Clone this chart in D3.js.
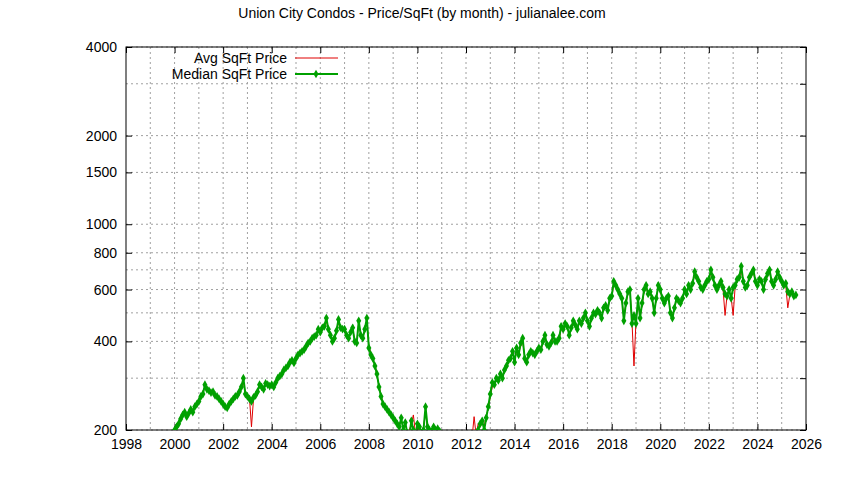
<!DOCTYPE html>
<html><head><meta charset="utf-8">
<script src="https://cdn.jsdelivr.net/npm/d3@7"></script>
<style>body{margin:0;background:#fff}text{font-family:"Liberation Sans",Arial,sans-serif}</style>
</head><body><svg id="c" width="844" height="480"></svg>
<script>
const startYear = 2000;
const median = [
200,205,210,218,225,230,222,228,235,230,240,245,
250,260,265,285,275,272,268,270,262,260,255,250,
245,240,238,245,250,255,260,262,270,280,300,265,
260,255,250,258,262,270,285,280,275,288,285,282,
285,280,290,300,305,310,320,325,330,340,345,338,
350,360,365,370,375,385,395,400,410,415,420,440,
430,445,450,480,440,420,400,410,435,475,445,440,
440,420,410,430,445,400,395,470,420,410,440,480,
380,360,350,330,310,280,260,245,240,235,230,225,
220,215,210,205,220,200,212,195,190,215,200,190,
210,205,195,200,240,205,200,198,205,200,202,198,
190,185,180,185,190,180,185,180,178,185,190,188,
185,190,180,190,185,195,200,210,215,200,220,240,
265,290,285,300,295,310,300,320,330,345,350,370,
340,380,360,395,410,350,340,360,370,365,360,370,
380,375,400,420,390,385,395,420,400,400,410,450,
440,460,450,420,445,470,455,440,470,460,480,500,
470,450,480,500,495,510,500,480,520,530,510,560,
570,640,620,600,580,560,470,540,590,600,460,490,
460,560,480,540,600,620,580,590,560,500,560,620,
600,560,540,560,570,500,480,520,560,550,540,560,
600,580,620,600,630,690,660,640,610,600,620,640,
650,700,660,620,600,620,640,610,580,570,600,560,
610,620,650,660,720,640,610,620,660,680,700,640,
620,650,640,600,650,680,700,640,620,650,690,660,
640,620,630,590,580,590,570,575];
const avg = [
198,208,212,215,228,226,225,230,232,235,238,250,
255,258,270,280,278,270,265,268,260,258,252,248,
244,242,240,243,252,258,262,265,272,282,290,268,
262,258,205,255,265,272,280,282,278,285,283,280,
283,282,292,298,303,312,318,322,332,338,342,340,
348,358,362,372,378,382,392,398,408,412,425,435,
432,440,455,470,435,425,405,415,430,465,440,445,
435,425,415,425,440,405,400,460,425,415,435,470,
385,365,345,335,305,285,262,248,242,238,232,228,
222,212,208,210,215,205,208,198,200,210,225,195,
205,200,198,205,230,200,202,200,203,198,200,195,
188,183,182,183,188,182,183,182,180,183,188,186,
183,188,182,188,222,192,210,205,212,205,225,235,
260,280,290,295,290,305,305,315,325,340,345,365,
345,370,365,385,400,355,345,355,368,362,358,365,
375,372,395,410,395,380,390,410,405,395,405,440,
435,455,445,425,440,460,450,445,465,458,475,490,
468,455,475,490,492,505,495,485,512,525,515,550,
560,630,615,595,575,555,480,535,580,595,470,330,
470,545,485,530,590,610,575,585,555,505,555,610,
595,555,545,555,565,505,490,515,555,545,545,555,
595,585,610,605,625,680,655,635,612,605,615,635,
640,690,655,625,605,615,630,605,490,575,595,565,
490,615,640,655,700,635,615,625,655,670,690,635,
625,645,635,605,640,670,690,635,625,645,680,655,
635,615,620,520,575,585,565,570];
const yTicks = [200,400,600,800,1000,1500,2000,4000];
const yGrid = [200,300,400,500,600,700,800,1000,1500,2000,3000,4000];
const xTicks = [1998,2000,2002,2004,2006,2008,2010,2012,2014,2016,2018,2020,2022,2024,2026];

const svg = d3.select("#c");
const L=126,R=806,T=47,B=430;
const x = d3.scaleLinear().domain([1998,2026]).range([L,R]);
const y = d3.scaleLog().domain([200,4000]).range([B,T]);
const dateOf = i => startYear + i/12;

svg.append("text").attr("x",422).attr("y",18).attr("text-anchor","middle").attr("font-size",14)
  .text("Union City Condos - Price/SqFt (by month) - julianalee.com");

const g = svg.append("g");
// grid
g.selectAll(".gy").data(yGrid).join("line").attr("x1",L).attr("x2",R)
  .attr("y1",d=>y(d)).attr("y2",d=>y(d)).attr("stroke","#a0a0a0").attr("stroke-dasharray","2,3");
const xMinor = d3.range(1999,2026,1);
g.selectAll(".gx").data(xMinor).join("line").attr("y1",T).attr("y2",B)
  .attr("x1",d=>x(d)).attr("x2",d=>x(d)).attr("stroke","#a0a0a0").attr("stroke-dasharray","2,3");
// axes
svg.append("g").attr("transform",`translate(0,${B})`)
  .call(d3.axisBottom(x).tickValues(xTicks).tickFormat(d3.format("d")).tickSize(-6).tickPadding(9))
  .call(a=>a.select(".domain").remove()).selectAll("text").attr("font-size",14);
svg.append("g").attr("transform",`translate(0,${T})`)
  .call(d3.axisTop(x).tickValues(xTicks).tickFormat("").tickSize(-6)).call(a=>a.select(".domain").remove());
svg.append("g").attr("transform",`translate(${L},0)`)
  .call(d3.axisLeft(y).tickValues(yTicks).tickFormat(d3.format("d")).tickSize(-6).tickPadding(9))
  .call(a=>a.select(".domain").remove()).selectAll("text").attr("font-size",14);
svg.append("g").attr("transform",`translate(${R},0)`)
  .call(d3.axisRight(y).tickValues(yGrid).tickFormat("").tickSize(-6)).call(a=>a.select(".domain").remove());
svg.append("rect").attr("x",L).attr("y",T).attr("width",R-L).attr("height",B-T)
  .attr("fill","none").attr("stroke","#000");

svg.append("clipPath").attr("id","cp").append("rect").attr("x",L).attr("y",T).attr("width",R-L).attr("height",B-T);
const p = svg.append("g").attr("clip-path","url(#cp)");
const line = d3.line().x((d,i)=>x(dateOf(i))).y(d=>y(d));
p.append("path").datum(avg).attr("d",line).attr("fill","none").attr("stroke","#e00000").attr("stroke-width",1);
p.append("path").datum(median).attr("d",line).attr("fill","none").attr("stroke","#00a000").attr("stroke-width",2);
const sym = d3.symbol().type(d3.symbolDiamond).size(22);
p.selectAll(".m").data(median).join("path").attr("d",sym)
  .attr("transform",(d,i)=>`translate(${x(dateOf(i))},${y(d)})`).attr("fill","#00a000");

// legend
const lg = svg.append("g");
lg.append("text").attr("x",287).attr("y",63).attr("text-anchor","end").attr("font-size",14).text("Avg SqFt Price");
lg.append("line").attr("x1",295).attr("x2",338).attr("y1",58).attr("y2",58).attr("stroke","#e00000");
lg.append("text").attr("x",287).attr("y",79).attr("text-anchor","end").attr("font-size",14).text("Median SqFt Price");
lg.append("line").attr("x1",295).attr("x2",338).attr("y1",74).attr("y2",74).attr("stroke","#00a000").attr("stroke-width",2);
lg.append("path").attr("d",sym).attr("transform","translate(316,74)").attr("fill","#00a000");
</script></body></html>
